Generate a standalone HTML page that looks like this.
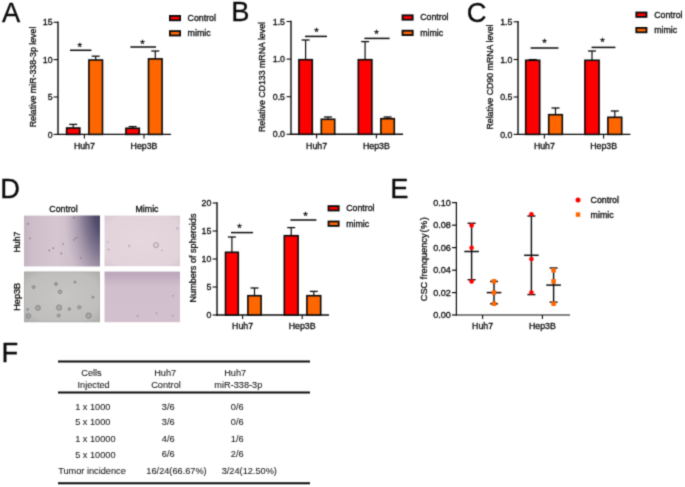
<!DOCTYPE html>
<html lang="en"><head><meta charset="utf-8"><title>Figure</title>
<style>html,body{margin:0;padding:0;background:#fff}svg{display:block}</style></head>
<body>
<svg width="685" height="487" viewBox="0 0 685 487" font-family="'Liberation Sans', Arial, sans-serif" fill="#0a0a0a"><style>text{stroke:#0a0a0a;stroke-width:0.3px;}.tb text{stroke-width:0.08px;fill:#1a1a1a}</style>
<defs>
<linearGradient id="g1" x1="0" y1="0" x2="1" y2="0"><stop offset="0" stop-color="#c3b4c1"/><stop offset="0.12" stop-color="#cdbeca"/><stop offset="0.42" stop-color="#d5c6d1"/><stop offset="0.7" stop-color="#cbbcc8"/><stop offset="1" stop-color="#c0b1c0"/></linearGradient>
<radialGradient id="g1d" gradientUnits="userSpaceOnUse" cx="0" cy="0" r="1" gradientTransform="translate(104 209) scale(40 92)"><stop offset="0" stop-color="#413c5a" stop-opacity="1"/><stop offset="0.25" stop-color="#4d4766" stop-opacity="0.95"/><stop offset="0.5" stop-color="#6b6280" stop-opacity="0.75"/><stop offset="0.75" stop-color="#8c8098" stop-opacity="0.4"/><stop offset="1" stop-color="#a898ac" stop-opacity="0"/></radialGradient>
<linearGradient id="g4" x1="0" y1="0" x2="0" y2="1"><stop offset="0" stop-color="#b9a5b9"/><stop offset="0.3" stop-color="#d2bfce"/><stop offset="1" stop-color="#d3c0cf"/></linearGradient>
<radialGradient id="g3" cx="0.5" cy="0.5" r="0.75"><stop offset="0" stop-color="#c7c6c4"/><stop offset="0.7" stop-color="#bfbebc"/><stop offset="1" stop-color="#a8a7a5"/></radialGradient>
<radialGradient id="g2" cx="0.5" cy="0.5" r="0.75"><stop offset="0" stop-color="#e6d7de"/><stop offset="0.75" stop-color="#e2d2da"/><stop offset="1" stop-color="#d6c4ce"/></radialGradient>
<filter id="b1" x="-5%" y="-5%" width="110%" height="110%"><feGaussianBlur stdDeviation="0.5"/></filter>
<filter id="b0" x="0" y="0" width="685" height="487" filterUnits="userSpaceOnUse" color-interpolation-filters="sRGB"><feConvolveMatrix order="3" kernelMatrix="0.062 0.249 0.062 0.249 1 0.249 0.062 0.249 0.062" divisor="2.244" edgeMode="duplicate" preserveAlpha="false"/></filter>
</defs>
<rect width="685" height="487" fill="#fff"/>
<g filter="url(#b0)">
<text x="2" y="21.7" font-size="27.3" text-anchor="start">A</text>
<text x="231.3" y="21.2" font-size="27.3" text-anchor="start">B</text>
<text x="466.8" y="21.7" font-size="27.3" text-anchor="start">C</text>
<text x="0.2" y="198" font-size="27.3" text-anchor="start">D</text>
<text x="390.3" y="198" font-size="27.3" text-anchor="start">E</text>
<text x="1.5" y="362" font-size="27.3" text-anchor="start">F</text>
<line x1="58" y1="21.6" x2="58" y2="135.1" stroke="#0a0a0a" stroke-width="1.4" stroke-linecap="butt"/>
<line x1="57.3" y1="134.4" x2="171" y2="134.4" stroke="#0a0a0a" stroke-width="1.4" stroke-linecap="butt"/>
<line x1="53.6" y1="22.3" x2="58" y2="22.3" stroke="#0a0a0a" stroke-width="1.1" stroke-linecap="butt"/>
<text x="52.6" y="25.400000000000002" font-size="8.8" text-anchor="end">15</text>
<line x1="53.6" y1="59.6" x2="58" y2="59.6" stroke="#0a0a0a" stroke-width="1.1" stroke-linecap="butt"/>
<text x="52.6" y="62.7" font-size="8.8" text-anchor="end">10</text>
<line x1="53.6" y1="97.0" x2="58" y2="97.0" stroke="#0a0a0a" stroke-width="1.1" stroke-linecap="butt"/>
<text x="52.6" y="100.1" font-size="8.8" text-anchor="end">5</text>
<line x1="53.6" y1="134.4" x2="58" y2="134.4" stroke="#0a0a0a" stroke-width="1.1" stroke-linecap="butt"/>
<text x="52.6" y="137.5" font-size="8.8" text-anchor="end">0</text>
<line x1="84.4" y1="134.4" x2="84.4" y2="138.4" stroke="#0a0a0a" stroke-width="1.1" stroke-linecap="butt"/>
<line x1="144" y1="134.4" x2="144" y2="138.4" stroke="#0a0a0a" stroke-width="1.1" stroke-linecap="butt"/>
<text x="84.4" y="148.6" font-size="8.8" text-anchor="middle">Huh7</text>
<text x="144" y="148.6" font-size="8.8" text-anchor="middle">Hep3B</text>
<text x="36.2" y="77" font-size="8.8" text-anchor="middle" transform="rotate(-90 36.2 77)">Relative miR-338-3p level</text>
<line x1="73.19999999999999" y1="124.4" x2="73.19999999999999" y2="127.7" stroke="#0a0a0a" stroke-width="1.2" stroke-linecap="butt"/>
<line x1="69.19999999999999" y1="124.4" x2="77.19999999999999" y2="124.4" stroke="#0a0a0a" stroke-width="1.3" stroke-linecap="butt"/>
<rect x="66.60" y="128.00" width="13.20" height="6.40" fill="#ff0000" stroke="#0a0a0a" stroke-width="1.6"/>
<line x1="95.69999999999999" y1="56.2" x2="95.69999999999999" y2="59.7" stroke="#0a0a0a" stroke-width="1.2" stroke-linecap="butt"/>
<line x1="91.69999999999999" y1="56.2" x2="99.69999999999999" y2="56.2" stroke="#0a0a0a" stroke-width="1.3" stroke-linecap="butt"/>
<rect x="88.90" y="60.00" width="13.60" height="74.40" fill="#ff6600" stroke="#0a0a0a" stroke-width="1.6"/>
<line x1="132.6" y1="126.6" x2="132.6" y2="128" stroke="#0a0a0a" stroke-width="1.2" stroke-linecap="butt"/>
<line x1="128.6" y1="126.6" x2="136.6" y2="126.6" stroke="#0a0a0a" stroke-width="1.3" stroke-linecap="butt"/>
<rect x="125.90" y="128.30" width="13.40" height="6.10" fill="#ff0000" stroke="#0a0a0a" stroke-width="1.6"/>
<line x1="155.3" y1="51" x2="155.3" y2="58.6" stroke="#0a0a0a" stroke-width="1.2" stroke-linecap="butt"/>
<line x1="151.3" y1="51" x2="159.3" y2="51" stroke="#0a0a0a" stroke-width="1.3" stroke-linecap="butt"/>
<rect x="148.50" y="58.90" width="13.60" height="75.50" fill="#ff6600" stroke="#0a0a0a" stroke-width="1.6"/>
<line x1="70" y1="50.3" x2="91.4" y2="50.3" stroke="#0a0a0a" stroke-width="1.5" stroke-linecap="butt"/>
<text x="79.7" y="50.900000000000006" font-size="11.5" text-anchor="middle">*</text>
<line x1="130.4" y1="47" x2="156" y2="47" stroke="#0a0a0a" stroke-width="1.5" stroke-linecap="butt"/>
<text x="142.6" y="47.6" font-size="11.5" text-anchor="middle">*</text>
<rect x="169.9" y="15.9" width="10.2" height="4.4" fill="#ff0000" stroke="#0a0a0a" stroke-width="1.8"/>
<rect x="169.9" y="31.099999999999998" width="10.2" height="4.4" fill="#ff6600" stroke="#0a0a0a" stroke-width="1.8"/>
<text x="187.6" y="21" font-size="8.8" text-anchor="start">Control</text>
<text x="187.6" y="36.2" font-size="8.8" text-anchor="start">mimic</text>
<line x1="291" y1="20.8" x2="291" y2="135.0" stroke="#0a0a0a" stroke-width="1.4" stroke-linecap="butt"/>
<line x1="290.3" y1="134.3" x2="403" y2="134.3" stroke="#0a0a0a" stroke-width="1.4" stroke-linecap="butt"/>
<line x1="286.6" y1="21.5" x2="291" y2="21.5" stroke="#0a0a0a" stroke-width="1.1" stroke-linecap="butt"/>
<text x="285" y="24.6" font-size="8.8" text-anchor="end">1.5</text>
<line x1="286.6" y1="59.1" x2="291" y2="59.1" stroke="#0a0a0a" stroke-width="1.1" stroke-linecap="butt"/>
<text x="285" y="62.2" font-size="8.8" text-anchor="end">1.0</text>
<line x1="286.6" y1="96.7" x2="291" y2="96.7" stroke="#0a0a0a" stroke-width="1.1" stroke-linecap="butt"/>
<text x="285" y="99.8" font-size="8.8" text-anchor="end">0.5</text>
<line x1="286.6" y1="134.3" x2="291" y2="134.3" stroke="#0a0a0a" stroke-width="1.1" stroke-linecap="butt"/>
<text x="285" y="137.4" font-size="8.8" text-anchor="end">0.0</text>
<line x1="316.6" y1="134.3" x2="316.6" y2="138.3" stroke="#0a0a0a" stroke-width="1.1" stroke-linecap="butt"/>
<line x1="376.4" y1="134.3" x2="376.4" y2="138.3" stroke="#0a0a0a" stroke-width="1.1" stroke-linecap="butt"/>
<text x="316.6" y="148.5" font-size="8.8" text-anchor="middle">Huh7</text>
<text x="376.4" y="148.5" font-size="8.8" text-anchor="middle">Hep3B</text>
<text x="265.4" y="77" font-size="8.8" text-anchor="middle" transform="rotate(-90 265.4 77)">Relative CD133 mRNA level</text>
<line x1="305.6" y1="40" x2="305.6" y2="59.4" stroke="#0a0a0a" stroke-width="1.2" stroke-linecap="butt"/>
<line x1="301.6" y1="40" x2="309.6" y2="40" stroke="#0a0a0a" stroke-width="1.3" stroke-linecap="butt"/>
<rect x="298.90" y="59.70" width="13.40" height="74.60" fill="#ff0000" stroke="#0a0a0a" stroke-width="1.6"/>
<line x1="328.0" y1="117" x2="328.0" y2="119" stroke="#0a0a0a" stroke-width="1.2" stroke-linecap="butt"/>
<line x1="324.0" y1="117" x2="332.0" y2="117" stroke="#0a0a0a" stroke-width="1.3" stroke-linecap="butt"/>
<rect x="321.30" y="119.30" width="13.40" height="15.00" fill="#ff6600" stroke="#0a0a0a" stroke-width="1.6"/>
<line x1="365.1" y1="41.6" x2="365.1" y2="59.4" stroke="#0a0a0a" stroke-width="1.2" stroke-linecap="butt"/>
<line x1="361.1" y1="41.6" x2="369.1" y2="41.6" stroke="#0a0a0a" stroke-width="1.3" stroke-linecap="butt"/>
<rect x="358.30" y="59.70" width="13.60" height="74.60" fill="#ff0000" stroke="#0a0a0a" stroke-width="1.6"/>
<line x1="387.6" y1="117" x2="387.6" y2="118.4" stroke="#0a0a0a" stroke-width="1.2" stroke-linecap="butt"/>
<line x1="383.6" y1="117" x2="391.6" y2="117" stroke="#0a0a0a" stroke-width="1.3" stroke-linecap="butt"/>
<rect x="380.90" y="118.70" width="13.40" height="15.60" fill="#ff6600" stroke="#0a0a0a" stroke-width="1.6"/>
<line x1="305" y1="36.4" x2="327" y2="36.4" stroke="#0a0a0a" stroke-width="1.5" stroke-linecap="butt"/>
<text x="316.4" y="36.2" font-size="11.5" text-anchor="middle">*</text>
<line x1="364.4" y1="38.4" x2="389.6" y2="38.4" stroke="#0a0a0a" stroke-width="1.5" stroke-linecap="butt"/>
<text x="376.6" y="38.2" font-size="11.5" text-anchor="middle">*</text>
<rect x="402.5" y="15.3" width="10.2" height="4.4" fill="#ff0000" stroke="#0a0a0a" stroke-width="1.8"/>
<rect x="402.5" y="30.7" width="10.2" height="4.4" fill="#ff6600" stroke="#0a0a0a" stroke-width="1.8"/>
<text x="420.2" y="20.4" font-size="8.8" text-anchor="start">Control</text>
<text x="420.2" y="35.8" font-size="8.8" text-anchor="start">mimic</text>
<line x1="518" y1="21.1" x2="518" y2="135.1" stroke="#0a0a0a" stroke-width="1.4" stroke-linecap="butt"/>
<line x1="517.3" y1="134.4" x2="630.4" y2="134.4" stroke="#0a0a0a" stroke-width="1.4" stroke-linecap="butt"/>
<line x1="513.6" y1="21.8" x2="518" y2="21.8" stroke="#0a0a0a" stroke-width="1.1" stroke-linecap="butt"/>
<text x="512.4" y="24.900000000000002" font-size="8.8" text-anchor="end">1.5</text>
<line x1="513.6" y1="59.5" x2="518" y2="59.5" stroke="#0a0a0a" stroke-width="1.1" stroke-linecap="butt"/>
<text x="512.4" y="62.6" font-size="8.8" text-anchor="end">1.0</text>
<line x1="513.6" y1="97.0" x2="518" y2="97.0" stroke="#0a0a0a" stroke-width="1.1" stroke-linecap="butt"/>
<text x="512.4" y="100.1" font-size="8.8" text-anchor="end">0.5</text>
<line x1="513.6" y1="134.4" x2="518" y2="134.4" stroke="#0a0a0a" stroke-width="1.1" stroke-linecap="butt"/>
<text x="512.4" y="137.5" font-size="8.8" text-anchor="end">0.0</text>
<line x1="544.4" y1="134.4" x2="544.4" y2="138.4" stroke="#0a0a0a" stroke-width="1.1" stroke-linecap="butt"/>
<line x1="603.6" y1="134.4" x2="603.6" y2="138.4" stroke="#0a0a0a" stroke-width="1.1" stroke-linecap="butt"/>
<text x="544.4" y="148.6" font-size="8.8" text-anchor="middle">Huh7</text>
<text x="603.6" y="148.6" font-size="8.8" text-anchor="middle">Hep3B</text>
<text x="493.2" y="77" font-size="8.8" text-anchor="middle" transform="rotate(-90 493.2 77)">Relative CD90 mRNA level</text>
<line x1="532.7" y1="59.6" x2="532.7" y2="60" stroke="#0a0a0a" stroke-width="1.2" stroke-linecap="butt"/>
<line x1="528.7" y1="59.6" x2="536.7" y2="59.6" stroke="#0a0a0a" stroke-width="1.3" stroke-linecap="butt"/>
<rect x="525.70" y="60.30" width="14.00" height="74.10" fill="#ff0000" stroke="#0a0a0a" stroke-width="1.6"/>
<line x1="555.5" y1="108" x2="555.5" y2="114.4" stroke="#0a0a0a" stroke-width="1.2" stroke-linecap="butt"/>
<line x1="551.5" y1="108" x2="559.5" y2="108" stroke="#0a0a0a" stroke-width="1.3" stroke-linecap="butt"/>
<rect x="548.70" y="114.70" width="13.60" height="19.70" fill="#ff6600" stroke="#0a0a0a" stroke-width="1.6"/>
<line x1="592.0" y1="51" x2="592.0" y2="60" stroke="#0a0a0a" stroke-width="1.2" stroke-linecap="butt"/>
<line x1="588.0" y1="51" x2="596.0" y2="51" stroke="#0a0a0a" stroke-width="1.3" stroke-linecap="butt"/>
<rect x="584.90" y="60.30" width="14.20" height="74.10" fill="#ff0000" stroke="#0a0a0a" stroke-width="1.6"/>
<line x1="614.8" y1="111" x2="614.8" y2="117" stroke="#0a0a0a" stroke-width="1.2" stroke-linecap="butt"/>
<line x1="610.8" y1="111" x2="618.8" y2="111" stroke="#0a0a0a" stroke-width="1.3" stroke-linecap="butt"/>
<rect x="607.90" y="117.30" width="13.80" height="17.10" fill="#ff6600" stroke="#0a0a0a" stroke-width="1.6"/>
<line x1="530.6" y1="48" x2="558.4" y2="48" stroke="#0a0a0a" stroke-width="1.5" stroke-linecap="butt"/>
<text x="544.4" y="47.2" font-size="11.5" text-anchor="middle">*</text>
<line x1="591.6" y1="47.4" x2="615.4" y2="47.4" stroke="#0a0a0a" stroke-width="1.5" stroke-linecap="butt"/>
<text x="602.4" y="45.800000000000004" font-size="11.5" text-anchor="middle">*</text>
<rect x="636.3" y="12.5" width="10.2" height="4.4" fill="#ff0000" stroke="#0a0a0a" stroke-width="1.8"/>
<rect x="636.3" y="27.9" width="10.2" height="4.4" fill="#ff6600" stroke="#0a0a0a" stroke-width="1.8"/>
<text x="654.2" y="17.6" font-size="8.8" text-anchor="start">Control</text>
<text x="654.2" y="33" font-size="8.8" text-anchor="start">mimic</text>
<line x1="217" y1="202.3" x2="217" y2="315.7" stroke="#0a0a0a" stroke-width="1.4" stroke-linecap="butt"/>
<line x1="216.3" y1="315" x2="329" y2="315" stroke="#0a0a0a" stroke-width="1.4" stroke-linecap="butt"/>
<line x1="212.6" y1="203" x2="217" y2="203" stroke="#0a0a0a" stroke-width="1.1" stroke-linecap="butt"/>
<text x="211.4" y="206.1" font-size="8.8" text-anchor="end">20</text>
<line x1="212.6" y1="231" x2="217" y2="231" stroke="#0a0a0a" stroke-width="1.1" stroke-linecap="butt"/>
<text x="211.4" y="234.1" font-size="8.8" text-anchor="end">15</text>
<line x1="212.6" y1="259" x2="217" y2="259" stroke="#0a0a0a" stroke-width="1.1" stroke-linecap="butt"/>
<text x="211.4" y="262.1" font-size="8.8" text-anchor="end">10</text>
<line x1="212.6" y1="287" x2="217" y2="287" stroke="#0a0a0a" stroke-width="1.1" stroke-linecap="butt"/>
<text x="211.4" y="290.1" font-size="8.8" text-anchor="end">5</text>
<line x1="212.6" y1="315" x2="217" y2="315" stroke="#0a0a0a" stroke-width="1.1" stroke-linecap="butt"/>
<text x="211.4" y="318.1" font-size="8.8" text-anchor="end">0</text>
<line x1="242.6" y1="315" x2="242.6" y2="319" stroke="#0a0a0a" stroke-width="1.1" stroke-linecap="butt"/>
<line x1="302.2" y1="315" x2="302.2" y2="319" stroke="#0a0a0a" stroke-width="1.1" stroke-linecap="butt"/>
<text x="242.6" y="329.2" font-size="8.8" text-anchor="middle">Huh7</text>
<text x="302.2" y="329.2" font-size="8.8" text-anchor="middle">Hep3B</text>
<text x="196.2" y="258" font-size="9.1" text-anchor="middle" transform="rotate(-90 196.2 258)">Numbers of spheroids</text>
<line x1="231.89999999999998" y1="237" x2="231.89999999999998" y2="252" stroke="#0a0a0a" stroke-width="1.2" stroke-linecap="butt"/>
<line x1="227.89999999999998" y1="237" x2="235.89999999999998" y2="237" stroke="#0a0a0a" stroke-width="1.3" stroke-linecap="butt"/>
<rect x="225.50" y="252.30" width="12.80" height="62.70" fill="#ff0000" stroke="#0a0a0a" stroke-width="1.6"/>
<line x1="254.5" y1="288" x2="254.5" y2="295.4" stroke="#0a0a0a" stroke-width="1.2" stroke-linecap="butt"/>
<line x1="250.5" y1="288" x2="258.5" y2="288" stroke="#0a0a0a" stroke-width="1.3" stroke-linecap="butt"/>
<rect x="247.90" y="295.70" width="13.20" height="19.30" fill="#ff6600" stroke="#0a0a0a" stroke-width="1.6"/>
<line x1="291.2" y1="227.6" x2="291.2" y2="235.4" stroke="#0a0a0a" stroke-width="1.2" stroke-linecap="butt"/>
<line x1="287.2" y1="227.6" x2="295.2" y2="227.6" stroke="#0a0a0a" stroke-width="1.3" stroke-linecap="butt"/>
<rect x="284.30" y="235.70" width="13.80" height="79.30" fill="#ff0000" stroke="#0a0a0a" stroke-width="1.6"/>
<line x1="313.8" y1="291.4" x2="313.8" y2="295.4" stroke="#0a0a0a" stroke-width="1.2" stroke-linecap="butt"/>
<line x1="309.8" y1="291.4" x2="317.8" y2="291.4" stroke="#0a0a0a" stroke-width="1.3" stroke-linecap="butt"/>
<rect x="306.90" y="295.70" width="13.80" height="19.30" fill="#ff6600" stroke="#0a0a0a" stroke-width="1.6"/>
<line x1="231" y1="232.6" x2="253" y2="232.6" stroke="#0a0a0a" stroke-width="1.5" stroke-linecap="butt"/>
<text x="239.4" y="232.2" font-size="11.5" text-anchor="middle">*</text>
<line x1="290.4" y1="220" x2="316.4" y2="220" stroke="#0a0a0a" stroke-width="1.5" stroke-linecap="butt"/>
<text x="305.6" y="219.79999999999998" font-size="11.5" text-anchor="middle">*</text>
<rect x="328.5" y="206.1" width="10.2" height="4.4" fill="#ff0000" stroke="#0a0a0a" stroke-width="1.8"/>
<rect x="328.5" y="221.5" width="10.2" height="4.4" fill="#ff6600" stroke="#0a0a0a" stroke-width="1.8"/>
<text x="346.2" y="211.2" font-size="8.8" text-anchor="start">Control</text>
<text x="346.2" y="226.6" font-size="8.8" text-anchor="start">mimic</text>
<g filter="url(#b1)">
<rect x="24" y="215.6" width="76" height="50.8" fill="url(#g1)"/>
<rect x="24" y="215.6" width="76" height="50.8" fill="url(#g1d)"/>
<rect x="104.5" y="215.6" width="75.5" height="50.6" fill="url(#g2)"/>
<rect x="24.3" y="271.9" width="75.4" height="50" fill="url(#g3)" stroke="#9d9c9a" stroke-width="0.6"/>
<rect x="104.5" y="271.6" width="75.5" height="50.6" fill="url(#g4)"/>
<circle cx="28.1" cy="223.9" r="0.85" fill="#7d6c68" opacity="0.75"/>
<circle cx="29.9" cy="238.3" r="0.85" fill="#7d6c68" opacity="0.75"/>
<circle cx="49.2" cy="250.3" r="0.85" fill="#7d6c68" opacity="0.75"/>
<circle cx="53.3" cy="248.2" r="0.85" fill="#7d6c68" opacity="0.75"/>
<circle cx="61.3" cy="253.4" r="0.85" fill="#7d6c68" opacity="0.75"/>
<circle cx="63.1" cy="244.1" r="0.85" fill="#7d6c68" opacity="0.75"/>
<circle cx="74.0" cy="239.8" r="0.85" fill="#7d6c68" opacity="0.75"/>
<circle cx="76.2" cy="237.9" r="0.85" fill="#7d6c68" opacity="0.75"/>
<circle cx="80.8" cy="257.8" r="0.85" fill="#7d6c68" opacity="0.75"/>
<circle cx="74.0" cy="217.7" r="0.85" fill="#7d6c68" opacity="0.75"/>
<circle cx="156.1" cy="245.1" r="2.4" fill="#e4d6d6" stroke="#8f8290" stroke-width="0.9" opacity="0.9"/>
<circle cx="129.2" cy="246.0" r="1.2" fill="#b9a9bd" opacity="0.8"/>
<circle cx="108.7" cy="249.5" r="1.1" fill="#b3a3bd" opacity="0.8"/>
<circle cx="177.5" cy="228.4" r="1.2" fill="#b3a3bd" opacity="0.8"/>
<circle cx="161.8" cy="250.3" r="0.9" fill="#b3a3bd" opacity="0.8"/>
<circle cx="107.7" cy="242.0" r="1.0" fill="#c0afc0" opacity="0.8"/>
<circle cx="38.0" cy="307.9" r="2.4" fill="#aca791" stroke="#71748a" stroke-width="0.9" opacity="0.85"/>
<circle cx="59.1" cy="307.6" r="2.6" fill="#aca791" stroke="#71748a" stroke-width="0.9" opacity="0.85"/>
<circle cx="88.6" cy="315.6" r="2.6" fill="#aca791" stroke="#71748a" stroke-width="0.9" opacity="0.85"/>
<circle cx="28.4" cy="315.9" r="2.2" fill="#aca791" stroke="#71748a" stroke-width="0.9" opacity="0.85"/>
<circle cx="60.0" cy="291.8" r="1.8" fill="#aca791" stroke="#71748a" stroke-width="0.9" opacity="0.85"/>
<circle cx="33.6" cy="287.1" r="1.5" fill="#aca791" stroke="#71748a" stroke-width="0.9" opacity="0.85"/>
<circle cx="56.0" cy="284.0" r="1.4" fill="#aca791" stroke="#71748a" stroke-width="0.9" opacity="0.85"/>
<circle cx="58.7" cy="315.6" r="1.5" fill="#aca791" stroke="#71748a" stroke-width="0.9" opacity="0.85"/>
<circle cx="79.3" cy="307.3" r="1.6" fill="#aca791" stroke="#71748a" stroke-width="0.9" opacity="0.85"/>
<circle cx="69.3" cy="309.1" r="1.2" fill="#aca791" stroke="#71748a" stroke-width="0.9" opacity="0.85"/>
<circle cx="75.0" cy="282.1" r="1.0" fill="#aca791" stroke="#71748a" stroke-width="0.9" opacity="0.85"/>
<circle cx="93.0" cy="297.3" r="1.0" fill="#aca791" stroke="#71748a" stroke-width="0.9" opacity="0.85"/>
<circle cx="27.7" cy="309.4" r="0.9" fill="#aca791" stroke="#71748a" stroke-width="0.9" opacity="0.85"/>
<circle cx="137.6" cy="316.2" r="0.9" fill="#9c8aa4" opacity="0.8"/>
<circle cx="172.6" cy="315.6" r="0.9" fill="#9c8aa4" opacity="0.8"/>
<circle cx="156.5" cy="313.1" r="0.9" fill="#9c8aa4" opacity="0.8"/>
<circle cx="173.0" cy="295.8" r="0.9" fill="#9c8aa4" opacity="0.8"/>
</g>
<text x="63.5" y="211.8" font-size="8.8" text-anchor="middle">Control</text>
<text x="147" y="211.8" font-size="8.8" text-anchor="middle">Mimic</text>
<text x="20" y="242" font-size="8.8" text-anchor="middle" transform="rotate(-90 20 242)">Huh7</text>
<text x="20" y="296.8" font-size="9.2" text-anchor="middle" transform="rotate(-90 20 296.8)">Hep3B</text>
<line x1="456.4" y1="202" x2="456.4" y2="315.6" stroke="#0a0a0a" stroke-width="1.2" stroke-linecap="butt"/>
<line x1="455.79999999999995" y1="315" x2="570" y2="315" stroke="#0a0a0a" stroke-width="1.2" stroke-linecap="butt"/>
<line x1="452.0" y1="202.6" x2="456.4" y2="202.6" stroke="#0a0a0a" stroke-width="1.2" stroke-linecap="butt"/>
<text x="450.9" y="205.79999999999998" font-size="9.15" text-anchor="end">0.10</text>
<line x1="452.0" y1="225.2" x2="456.4" y2="225.2" stroke="#0a0a0a" stroke-width="1.2" stroke-linecap="butt"/>
<text x="450.9" y="228.39999999999998" font-size="9.15" text-anchor="end">0.08</text>
<line x1="452.0" y1="247.6" x2="456.4" y2="247.6" stroke="#0a0a0a" stroke-width="1.2" stroke-linecap="butt"/>
<text x="450.9" y="250.79999999999998" font-size="9.15" text-anchor="end">0.06</text>
<line x1="452.0" y1="270.2" x2="456.4" y2="270.2" stroke="#0a0a0a" stroke-width="1.2" stroke-linecap="butt"/>
<text x="450.9" y="273.4" font-size="9.15" text-anchor="end">0.04</text>
<line x1="452.0" y1="292.6" x2="456.4" y2="292.6" stroke="#0a0a0a" stroke-width="1.2" stroke-linecap="butt"/>
<text x="450.9" y="295.8" font-size="9.15" text-anchor="end">0.02</text>
<line x1="452.0" y1="315" x2="456.4" y2="315" stroke="#0a0a0a" stroke-width="1.2" stroke-linecap="butt"/>
<text x="450.9" y="318.2" font-size="9.15" text-anchor="end">0.00</text>
<line x1="482.6" y1="315" x2="482.6" y2="319" stroke="#0a0a0a" stroke-width="1.1" stroke-linecap="butt"/>
<text x="482.6" y="329.2" font-size="8.8" text-anchor="middle">Huh7</text>
<line x1="542.4" y1="315" x2="542.4" y2="319" stroke="#0a0a0a" stroke-width="1.1" stroke-linecap="butt"/>
<text x="542.4" y="329.2" font-size="8.8" text-anchor="middle">Hep3B</text>
<text x="426.8" y="259.2" font-size="9.25" text-anchor="middle" transform="rotate(-90 426.8 259.2)">CSC frenquency<tspan dx="0.8">(</tspan><tspan dx="0.5">%</tspan><tspan dx="0.5">)</tspan></text>
<line x1="471.6" y1="223.3" x2="471.6" y2="279.7" stroke="#0a0a0a" stroke-width="1.4" stroke-linecap="butt"/>
<line x1="467.6" y1="223.3" x2="475.6" y2="223.3" stroke="#0a0a0a" stroke-width="1.4" stroke-linecap="butt"/>
<line x1="467.6" y1="279.7" x2="475.6" y2="279.7" stroke="#0a0a0a" stroke-width="1.4" stroke-linecap="butt"/>
<line x1="464.3" y1="251.5" x2="478.90000000000003" y2="251.5" stroke="#0a0a0a" stroke-width="1.5" stroke-linecap="butt"/>
<circle cx="471.6" cy="225.4" r="2.3" fill="#ff0000"/>
<circle cx="471.6" cy="247.8" r="2.3" fill="#ff0000"/>
<circle cx="471.6" cy="281.4" r="2.3" fill="#ff0000"/>
<line x1="494" y1="281.4" x2="494" y2="303.8" stroke="#0a0a0a" stroke-width="1.4" stroke-linecap="butt"/>
<line x1="490" y1="281.4" x2="498" y2="281.4" stroke="#0a0a0a" stroke-width="1.4" stroke-linecap="butt"/>
<line x1="490" y1="303.8" x2="498" y2="303.8" stroke="#0a0a0a" stroke-width="1.4" stroke-linecap="butt"/>
<line x1="486.7" y1="292.6" x2="501.3" y2="292.6" stroke="#0a0a0a" stroke-width="1.5" stroke-linecap="butt"/>
<rect x="491.7" y="279.1" width="4.6" height="4.6" rx="0.8" fill="#ff6600"/>
<rect x="491.7" y="290.3" width="4.6" height="4.6" rx="0.8" fill="#ff6600"/>
<rect x="491.7" y="301.5" width="4.6" height="4.6" rx="0.8" fill="#ff6600"/>
<line x1="531.4" y1="216.0" x2="531.4" y2="294.6" stroke="#0a0a0a" stroke-width="1.4" stroke-linecap="butt"/>
<line x1="527.4" y1="216.0" x2="535.4" y2="216.0" stroke="#0a0a0a" stroke-width="1.4" stroke-linecap="butt"/>
<line x1="527.4" y1="294.6" x2="535.4" y2="294.6" stroke="#0a0a0a" stroke-width="1.4" stroke-linecap="butt"/>
<line x1="524.1" y1="255.3" x2="538.6999999999999" y2="255.3" stroke="#0a0a0a" stroke-width="1.5" stroke-linecap="butt"/>
<circle cx="531.4" cy="214.2" r="2.3" fill="#ff0000"/>
<circle cx="531.4" cy="259.0" r="2.3" fill="#ff0000"/>
<circle cx="531.4" cy="292.6" r="2.3" fill="#ff0000"/>
<line x1="553.6" y1="268.0" x2="553.6" y2="302.2" stroke="#0a0a0a" stroke-width="1.4" stroke-linecap="butt"/>
<line x1="549.6" y1="268.0" x2="557.6" y2="268.0" stroke="#0a0a0a" stroke-width="1.4" stroke-linecap="butt"/>
<line x1="549.6" y1="302.2" x2="557.6" y2="302.2" stroke="#0a0a0a" stroke-width="1.4" stroke-linecap="butt"/>
<line x1="546.3000000000001" y1="285.1" x2="560.9" y2="285.1" stroke="#0a0a0a" stroke-width="1.5" stroke-linecap="butt"/>
<rect x="551.3000000000001" y="267.9" width="4.6" height="4.6" rx="0.8" fill="#ff6600"/>
<rect x="551.3000000000001" y="279.1" width="4.6" height="4.6" rx="0.8" fill="#ff6600"/>
<rect x="551.3000000000001" y="301.5" width="4.6" height="4.6" rx="0.8" fill="#ff6600"/>
<circle cx="578" cy="200" r="2.5" fill="#ff0000"/>
<rect x="575.8" y="212.4" width="4.4" height="4.4" fill="#ff6600"/>
<text x="590.6" y="203.2" font-size="8.8" text-anchor="start">Control</text>
<text x="590.6" y="217.8" font-size="8.8" text-anchor="start">mimic</text>
<line x1="58" y1="361.4" x2="310" y2="361.4" stroke="#0a0a0a" stroke-width="2" stroke-linecap="butt"/>
<line x1="58" y1="392.4" x2="310" y2="392.4" stroke="#0a0a0a" stroke-width="2" stroke-linecap="butt"/>
<line x1="58" y1="483.2" x2="310" y2="483.2" stroke="#0a0a0a" stroke-width="2" stroke-linecap="butt"/>
<g class="tb">
<text x="91.5" y="375.6" font-size="9.2" text-anchor="middle">Cells</text>
<text x="93.6" y="388" font-size="9.2" text-anchor="middle">Injected</text>
<text x="165.2" y="375.6" font-size="9.2" text-anchor="middle">Huh7</text>
<text x="166" y="388" font-size="9.2" text-anchor="middle">Control</text>
<text x="235.2" y="375.6" font-size="9.2" text-anchor="middle">Huh7</text>
<text x="238.3" y="388" font-size="9.2" text-anchor="middle">miR-338-3p</text>
<text x="75.2" y="410" font-size="9.2" text-anchor="start">1 x 1000</text>
<text x="168.2" y="410" font-size="9.2" text-anchor="middle">3/6</text>
<text x="237.2" y="410" font-size="9.2" text-anchor="middle">0/6</text>
<text x="75.2" y="425.4" font-size="9.2" text-anchor="start">5 x 1000</text>
<text x="168.2" y="425.4" font-size="9.2" text-anchor="middle">3/6</text>
<text x="237.2" y="425.4" font-size="9.2" text-anchor="middle">0/6</text>
<text x="75.2" y="442.2" font-size="9.2" text-anchor="start">1 x 10000</text>
<text x="168.2" y="441.7" font-size="9.2" text-anchor="middle">4/6</text>
<text x="237.2" y="441.7" font-size="9.2" text-anchor="middle">1/6</text>
<text x="75.2" y="458" font-size="9.2" text-anchor="start">5 x 10000</text>
<text x="168.2" y="456.8" font-size="9.2" text-anchor="middle">6/6</text>
<text x="237.2" y="456.8" font-size="9.2" text-anchor="middle">2/6</text>
<text x="58.2" y="474.2" font-size="9.2" text-anchor="start">Tumor incidence</text>
<text x="176.5" y="474.2" font-size="9.2" text-anchor="middle">16/24(66.67%)</text>
<text x="249.3" y="474.2" font-size="9.2" text-anchor="middle">3/24(12.50%)</text>
</g>
</g>
</svg>
</body></html>
